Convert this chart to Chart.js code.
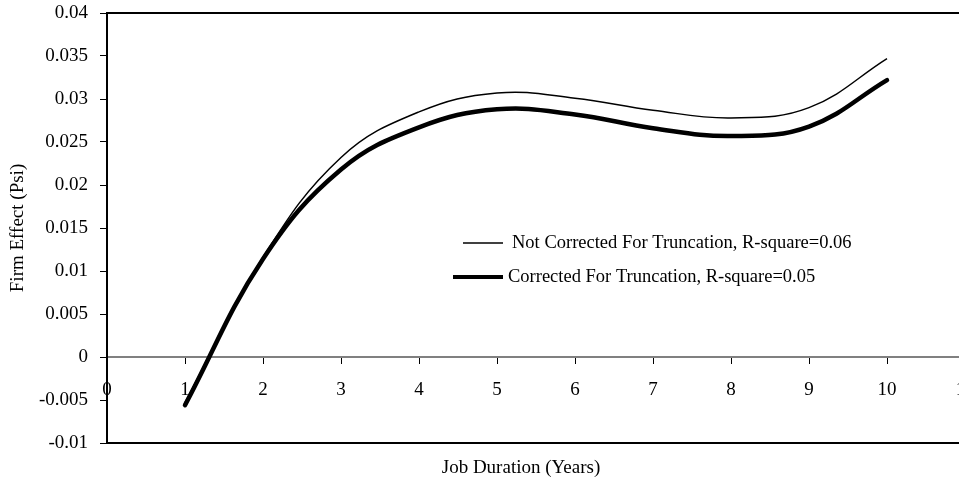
<!DOCTYPE html>
<html>
<head>
<meta charset="utf-8">
<script src="https://cdn.jsdelivr.net/npm/chart.js@4"></script>
<style>
  html, body { margin: 0; padding: 0; background: #fff; overflow: hidden; }
  #wrap { width: 959px; height: 480px; overflow: hidden; }
</style>
</head>
<body>
<div id="wrap"><canvas id="firmChart" width="975" height="480"></canvas></div>
<script>
/* ======================================================
   DATA
====================================================== */

const years = [1, 2, 3, 4, 5, 6, 7, 8, 9, 10];
const notCorrected = [-0.0053, 0.0116, 0.0232, 0.0285, 0.0307, 0.0301, 0.0287, 0.0278, 0.0290, 0.0347];
const corrected = [-0.0056, 0.0114, 0.0218, 0.0267, 0.0288, 0.0282, 0.0266, 0.0257, 0.0268, 0.0322];
const legendLabels = [
  "Not Corrected For Truncation, R-square=0.06",
  "Corrected For Truncation, R-square=0.05"
];
const xTitle = "Job Duration (Years)";

const FONT = "Liberation Serif";

/* ======================================================
   PLUGINS
====================================================== */

// black box round the plot area + x title (sits a bit left of centre)
const frame = {
  id: "frame",
  afterDraw(chart) {
    const { ctx, chartArea: a } = chart;
    ctx.save();
    ctx.strokeStyle = "#000";
    ctx.lineWidth = 2;
    ctx.strokeRect(a.left, a.top, a.right - a.left, a.bottom - a.top);
    ctx.font = "19px '" + FONT + "'";
    ctx.fillStyle = "#000";
    ctx.textAlign = "center";
    ctx.textBaseline = "middle";
    ctx.fillText(xTitle, 521, 468);
    ctx.restore();
  }
};

// legend sits inside the plot, like the original
const innerLegend = {
  id: "innerLegend",
  afterDraw(chart) {
    const { ctx } = chart;
    const rows = [
      { x1: 463, x2: 503, y: 243, w: 1.5, tx: 512 },
      { x1: 453, x2: 503, y: 277, w: 4, tx: 508 }
    ];
    ctx.save();
    ctx.font = "18.5px '" + FONT + "'";
    ctx.fillStyle = "#000";
    ctx.textBaseline = "middle";
    rows.forEach((r, i) => {
      ctx.strokeStyle = "#000";
      ctx.lineWidth = r.w;
      ctx.beginPath();
      ctx.moveTo(r.x1, r.y);
      ctx.lineTo(r.x2, r.y);
      ctx.stroke();
      ctx.fillText(legendLabels[i], r.tx, r.y);
    });
    ctx.restore();
  }
};

/* ======================================================
   CHART
====================================================== */

new Chart(document.getElementById("firmChart"), {
  type: "line",
  data: {
    datasets: [
      {
        label: legendLabels[0],
        data: years.map((x, i) => ({ x, y: notCorrected[i] })),
        borderColor: "#000",
        borderWidth: 1.5,
        pointRadius: 0,
        tension: 0.4,
        fill: false
      },
      {
        label: legendLabels[1],
        data: years.map((x, i) => ({ x, y: corrected[i] })),
        borderColor: "#000",
        borderWidth: 4.5,
        borderCapStyle: "round",
        pointRadius: 0,
        tension: 0.4,
        fill: false
      }
    ]
  },
  options: {
    responsive: false,
    animation: false,
    devicePixelRatio: 1,
    layout: { padding: { top: 13, right: 10, left: 0, bottom: 0 } },
    plugins: {
      legend: { display: false },
      tooltip: { enabled: false }
    },
    scales: {
      x: {
        type: "linear",
        position: { y: 0 },
        min: 0,
        max: 11,
        ticks: {
          stepSize: 1,
          color: "#000",
          font: { family: FONT, size: 19 },
          padding: 16,
          maxRotation: 0
        },
        grid: { drawOnChartArea: false, tickLength: 6, color: "#000" },
        border: { color: "#808080", width: 2 },
        afterFit(s) { s.paddingLeft = 0; s.paddingRight = 0; }
      },
      x2: {
        type: "linear",
        position: "bottom",
        min: 0,
        max: 11,
        ticks: { display: false },
        grid: { display: false, drawTicks: false },
        border: { display: false },
        afterFit(s) { s.height = 37; s.paddingLeft = 0; s.paddingRight = 0; }
      },
      y: {
        min: -0.01,
        max: 0.04,
        ticks: {
          stepSize: 0.005,
          color: "#000",
          font: { family: FONT, size: 19 },
          padding: 12,
          callback: v => String(+v.toFixed(3))
        },
        grid: { drawOnChartArea: false, tickLength: 7, color: "#000" },
        border: { display: false },
        title: {
          display: true,
          text: "Firm Effect (Psi)",
          color: "#000",
          font: { family: FONT, size: 19 },
          padding: { top: 7, bottom: 7 }
        },
        afterFit(s) { s.width = 107; s.paddingTop = 0; s.paddingBottom = 0; }
      }
    }
  },
  plugins: [frame, innerLegend]
});
</script>
</body>
</html>
